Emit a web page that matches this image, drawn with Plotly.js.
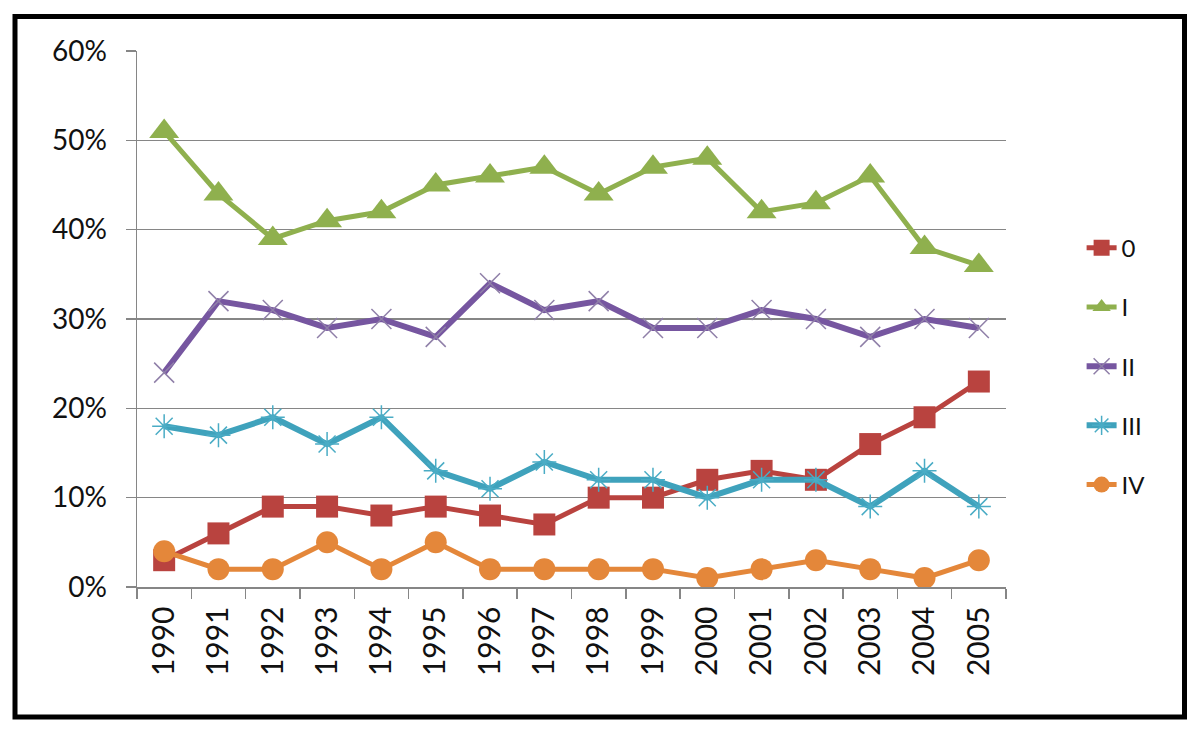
<!DOCTYPE html>
<html>
<head>
<meta charset="utf-8">
<script src="https://cdn.plot.ly/plotly-3.0.1.min.js"></script>
<style>
  html, body { margin: 0; padding: 0; background: #ffffff; }
  #chart { width: 1200px; height: 732px; }
</style>
</head>
<body>
<div id="chart"></div>
<script>
const years = ['1990','1991','1992','1993','1994','1995','1996','1997','1998','1999','2000','2001','2002','2003','2004','2005'];
const seriesNames = ['0', 'I', 'II', 'III', 'IV'];
const s0   = [0.03, 0.06, 0.09, 0.09, 0.08, 0.09, 0.08, 0.07, 0.10, 0.10, 0.12, 0.13, 0.12, 0.16, 0.19, 0.23];
const sI   = [0.51, 0.44, 0.39, 0.41, 0.42, 0.45, 0.46, 0.47, 0.44, 0.47, 0.48, 0.42, 0.43, 0.46, 0.38, 0.36];
const sII  = [0.24, 0.32, 0.31, 0.29, 0.30, 0.28, 0.34, 0.31, 0.32, 0.29, 0.29, 0.31, 0.30, 0.28, 0.30, 0.29];
const sIII = [0.18, 0.17, 0.19, 0.16, 0.19, 0.13, 0.11, 0.14, 0.12, 0.12, 0.10, 0.12, 0.12, 0.09, 0.13, 0.09];
const sIV  = [0.04, 0.02, 0.02, 0.05, 0.02, 0.05, 0.02, 0.02, 0.02, 0.02, 0.01, 0.02, 0.03, 0.02, 0.01, 0.03];

const FONT = 'Lato, "Open Sans", sans-serif';

const traces = [
  { name: seriesNames[0], y: s0, line: { color: '#B9433F', width: 5 },
    marker: { symbol: 'square', size: 22, color: '#B9433F' } },
  { name: seriesNames[1], y: sI, line: { color: '#8FB04E', width: 5 },
    marker: { symbol: 'triangle-up', size: 26, color: '#8FB04E' } },
  { name: seriesNames[2], y: sII, line: { color: '#7656A0', width: 6 },
    marker: { symbol: 'x-thin-open', size: 20, color: '#8F7FA8', line: { width: 1.5, color: '#8F7FA8' } } },
  { name: seriesNames[3], y: sIII, line: { color: '#3FA2BC', width: 6 },
    marker: { symbol: 'asterisk-open', size: 20, color: '#4AACC5', line: { width: 1.5, color: '#4AACC5' } } },
  { name: seriesNames[4], y: sIV, line: { color: '#E4873A', width: 5 },
    marker: { symbol: 'circle', size: 22, color: '#E4873A' } }
].map((t, i) => Object.assign({
  type: 'scatter', mode: 'lines+markers', x: years, legendgroup: 'g' + i
}, t));

const layout = {
  width: 1200, height: 732,
  margin: { l: 137, r: 194, t: 51, b: 145 },
  paper_bgcolor: '#ffffff', plot_bgcolor: '#ffffff',
  font: { family: FONT, color: '#222222' },
  showlegend: true,
  legend: {
    x: 1.087, xanchor: 'left', y: 0.412, yanchor: 'middle',
    font: { family: FONT, size: 24, color: '#111111' },
    traceorder: 'grouped', tracegroupgap: 25,
    bgcolor: 'rgba(0,0,0,0)'
  },
  xaxis: {
    type: 'category',
    range: [-0.5, years.length - 0.5],
    tickangle: -90,
    tickson: 'boundaries',
    ticks: 'outside', ticklen: 10, tickcolor: '#868686', tickwidth: 1.5,
    showline: true, linecolor: '#868686', linewidth: 1.5,
    showgrid: false, zeroline: false,
    tickfont: { family: FONT, size: 30, color: '#111111' },
    ticklabelstandoff: 6
  },
  yaxis: {
    range: [0, 0.6], dtick: 0.1, tickformat: '.0%',
    ticks: 'outside', ticklen: 10, tickcolor: '#868686', tickwidth: 1.5,
    showline: true, linecolor: '#868686', linewidth: 1.5,
    showgrid: true, gridcolor: '#868686', gridwidth: 1.5,
    zeroline: false,
    tickfont: { family: FONT, size: 28, color: '#111111' },
    ticklabelstandoff: 13
  },
  shapes: [{
    type: 'rect', xref: 'paper', yref: 'paper',
    x0: (15 - 137) / 869, x1: (1184.5 - 137) / 869,
    y0: (587 - 717) / 536, y1: (587 - 16.5) / 536,
    line: { color: '#000000', width: 5 }, fillcolor: 'rgba(0,0,0,0)'
  }]
};

Plotly.newPlot('chart', traces, layout, { displayModeBar: false, staticPlot: true });
</script>
</body>
</html>
